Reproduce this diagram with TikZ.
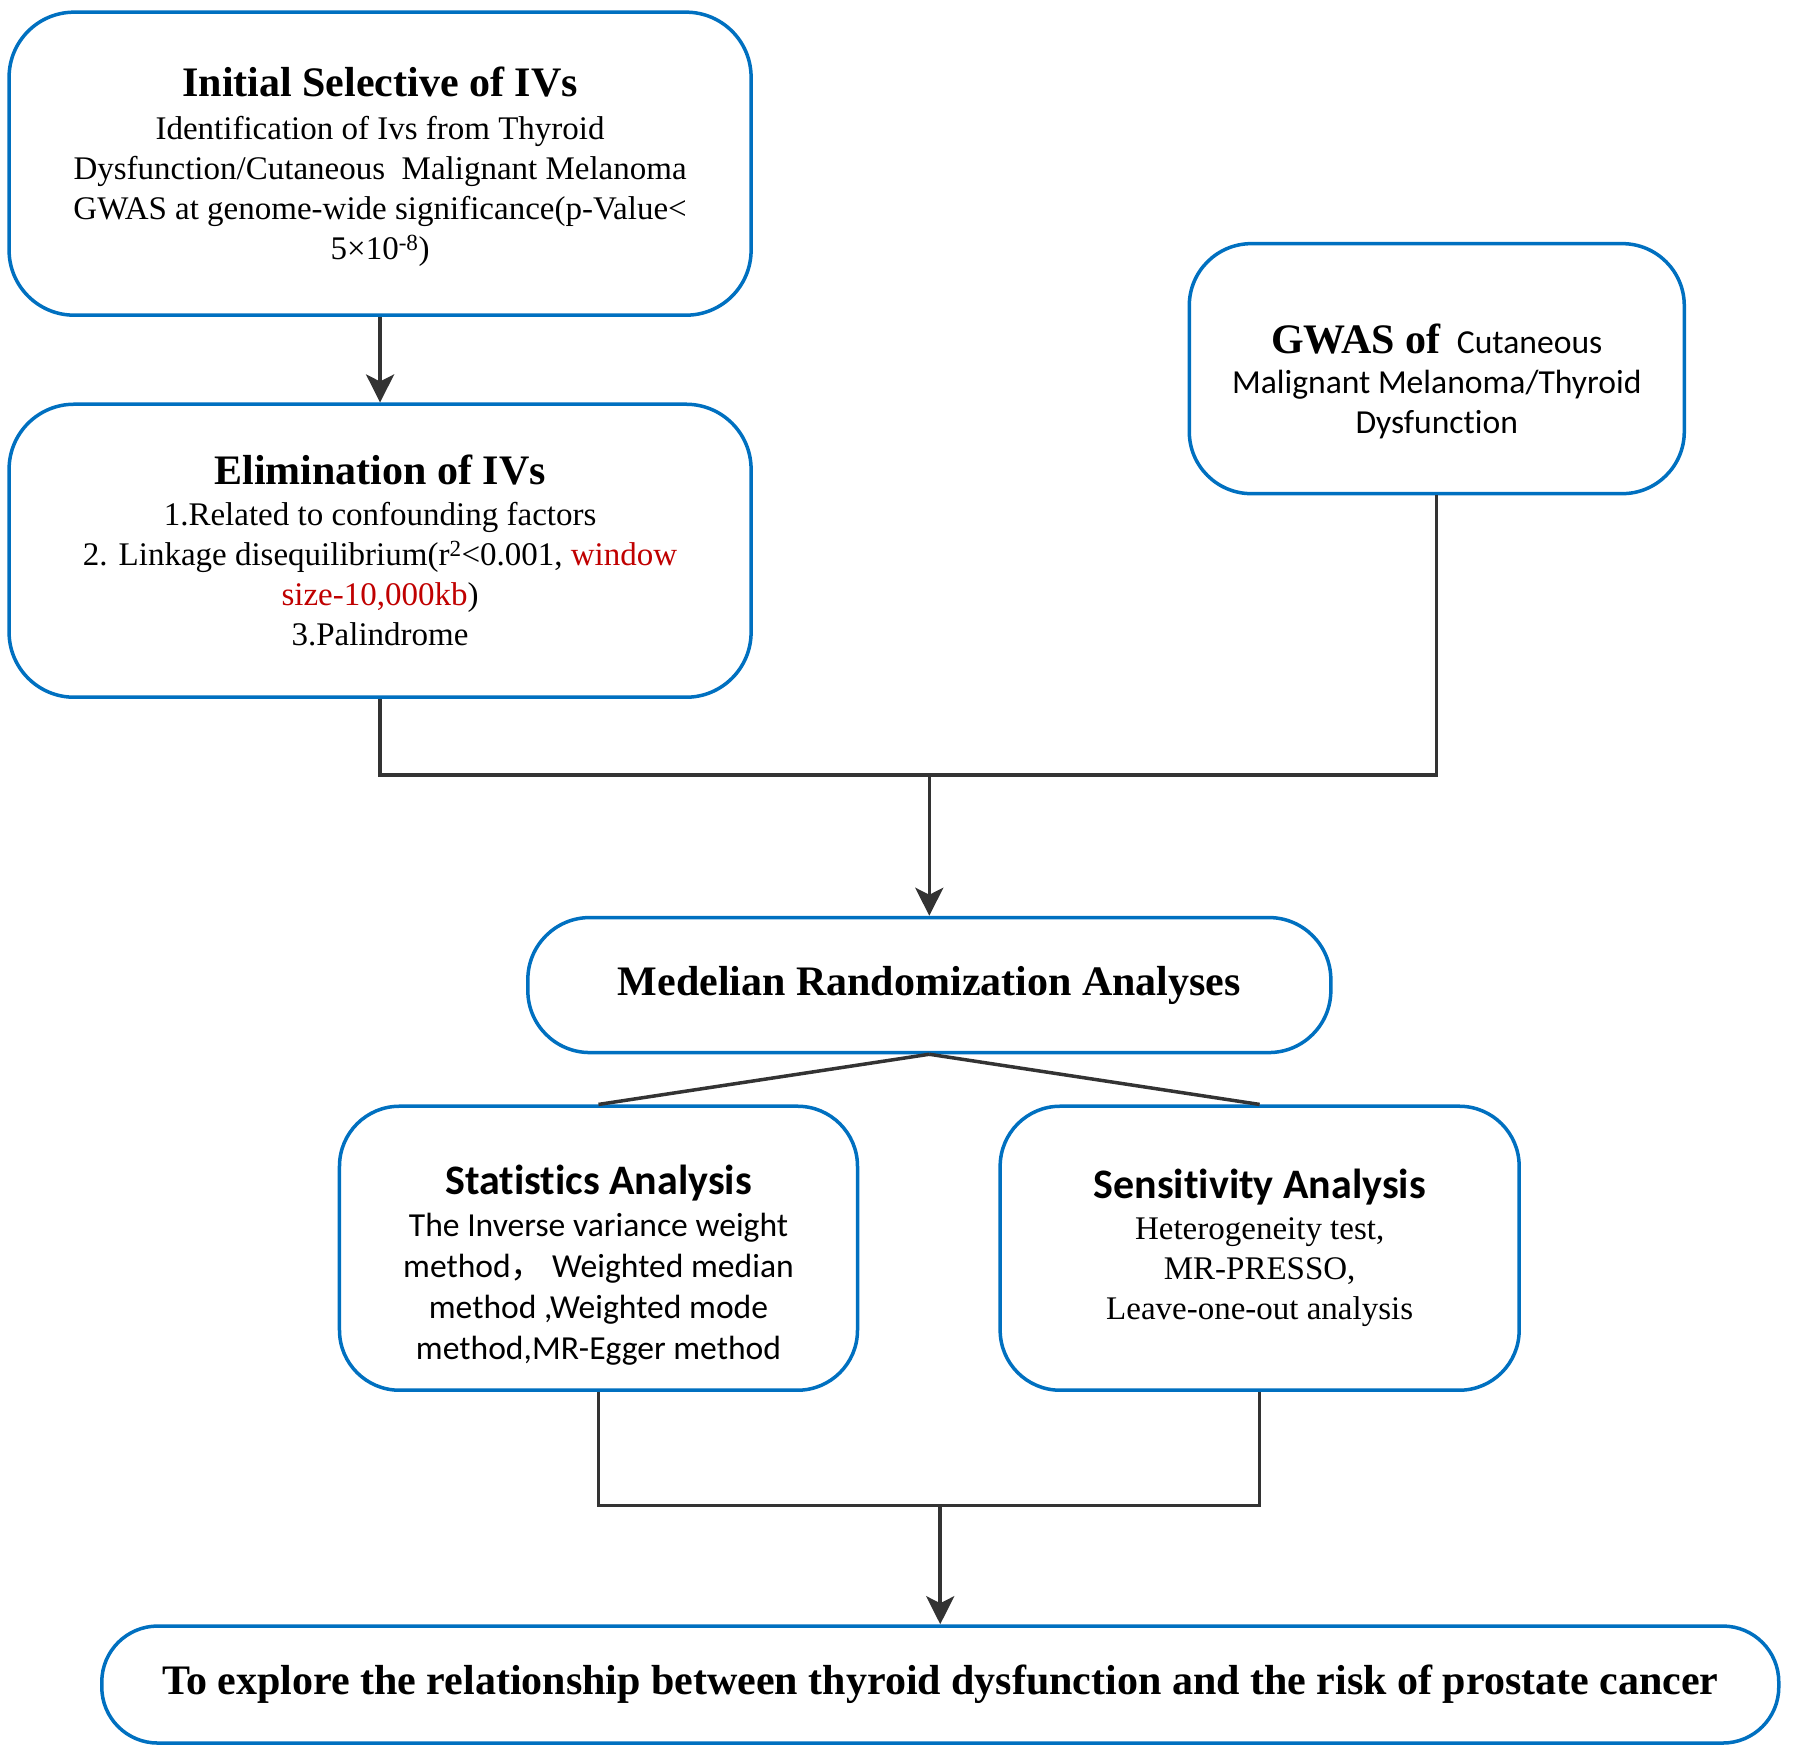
\documentclass[tikz,border=0pt]{standalone}
\usepackage{fontspec}
\setmainfont[Ligatures={TeX,NoCommon}]{Liberation Serif}
\newfontfamily\calibri[Ligatures={TeX,NoCommon}]{Carlito}
\newfontfamily\cjk{Noto Sans CJK SC}
\usetikzlibrary{arrows.meta}
\definecolor{boxblue}{RGB}{0,112,192}
\definecolor{lineg}{RGB}{51,51,51}
\definecolor{redtxt}{RGB}{192,0,0}
\newcommand{\ttlfont}{\fontsize{42}{40}\selectfont\bfseries}
\newcommand{\calfont}{\calibri\fontsize{33.6}{40}\selectfont}
\begin{document}
\begin{tikzpicture}[x=1pt,y=-1pt,
  box/.style={draw=boxblue, line width=3.5pt, fill=white, align=center, inner sep=0pt,
              font=\fontsize{33}{40}\selectfont},
  conn/.style={draw=lineg, line width=3.5pt},
  arr/.style={conn, -{Stealth[length=28pt,width=28pt,inset=7pt]}},
]
\fill[white] (0,0) rectangle (1798,1758);
\useasboundingbox (0,0) rectangle (1798,1758);
\begin{scope}[scale=0.995]
\node[box, minimum width=742pt, minimum height=303pt, rounded corners=65pt] (init) at (382,164.5)
 {\rule{0pt}{36pt}{\ttlfont Initial Selective of IVs}\\[3pt]
  Identification of Ivs from Thyroid\\
  Dysfunction/Cutaneous\ \ Malignant Melanoma\\
  GWAS at genome-wide significance(p-Value<\\
  5×10\textsuperscript{-8})};

\node[box, minimum width=742pt, minimum height=293pt, rounded corners=65pt] (elim) at (382,553.5)
 {{\ttlfont Elimination of IVs}\\[1pt]
  1.Related to confounding factors\\
  2. Linkage disequilibrium(r\textsuperscript{2}<0.001, \textcolor{redtxt}{window}\\
  \textcolor{redtxt}{size-10,000kb})\\
  3.Palindrome};

\node[box, minimum width=495pt, minimum height=250pt, rounded corners=62pt] (gwas) at (1444,370.5)
 {\rule{0pt}{55pt}{\ttlfont GWAS of}\ \ {\calfont Cutaneous}\\
  {\calfont Malignant Melanoma/Thyroid}\\
  {\calfont Dysfunction}};

\node[box, minimum width=803pt, minimum height=135pt, rounded corners=62pt] (mr) at (934,990)
 {{\ttlfont Medelian Randomization Analyses}};

\node[box, minimum width=518pt, minimum height=284pt, rounded corners=60pt, font=\calibri\fontsize{33.6}{41}\selectfont] (stats) at (601.5,1254.5)
 {\rule{0pt}{63pt}{\ttlfont Statistics Analysis}\\[1pt]
  The Inverse variance weight\\
  method{\cjk ，}\ Weighted median\\
  method ,Weighted mode\\
  method,MR-Egger method};

\node[box, minimum width=519pt, minimum height=284pt, rounded corners=60pt] (sens) at (1266,1254.5)
 {{\calibri\ttlfont Sensitivity Analysis}\\[1pt]
  Heterogeneity test,\\
  MR-PRESSO,\\
  Leave-one-out analysis};

\node[box, minimum width=1677pt, minimum height=117pt, rounded corners=56pt] (final) at (945,1693)
 {{\ttlfont To explore the relationship between thyroid dysfunction and the risk of prostate cancer}};

\coordinate (j1) at (934,779);
\coordinate (j2) at (945,1513);

\draw[arr] (init.south) -- (elim.north);
\draw[conn] (elim.south) |- (j1) -| (gwas.south);
\draw[arr] (j1) -- (mr.north);
\draw[conn] (mr.south) -- (stats.north);
\draw[conn] (mr.south) -- (sens.north);
\draw[conn] (stats.south) |- (j2) -| (sens.south);
\draw[arr] (j2) -- (final.north);
\end{scope}
\end{tikzpicture}
\end{document}
